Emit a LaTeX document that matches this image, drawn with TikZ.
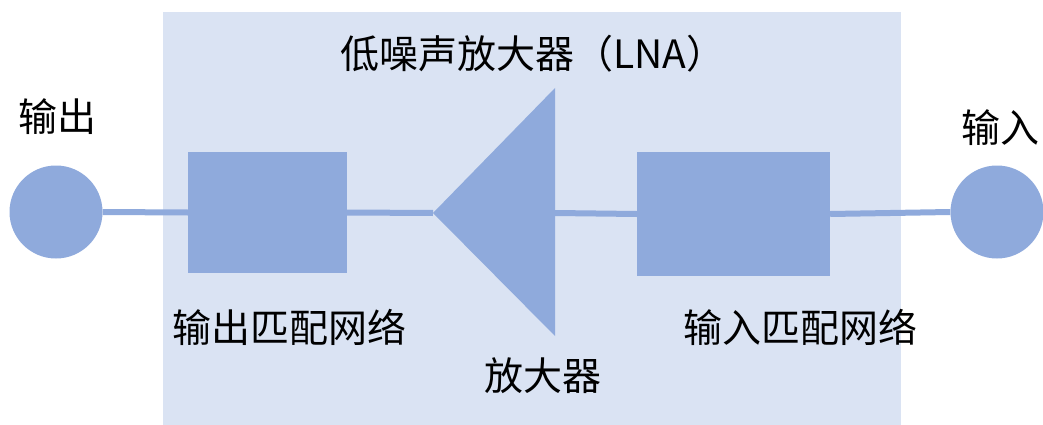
\documentclass[tikz,border=0pt]{standalone}
\usepackage{fontspec}
\setmainfont{Noto Sans CJK SC}
\definecolor{bgblue}{HTML}{DAE3F3}
\definecolor{shapeblue}{HTML}{8FAADC}
\begin{document}
\begin{tikzpicture}[x=1pt,y=-1pt,
  port/.style={circle,fill=shapeblue,inner sep=0pt,minimum size=93pt},
  netbox/.style={rectangle,fill=shapeblue,inner sep=0pt},
  wire/.style={draw=shapeblue,line width=6pt},
  lbl/.style={inner sep=0pt,font=\fontsize{39}{47}\selectfont,text=black}]
\useasboundingbox (0,0) rectangle (1043,425);
\fill[bgblue] (163,12) rectangle (901,425);
% nodes
\node[port] (out) at (56,212) {};
\node[port] (in) at (997,212) {};
\node[netbox,minimum width=159pt,minimum height=121pt] (ob) at (267.5,212.5) {};
\node[netbox,minimum width=193pt,minimum height=124pt] (ib) at (733.5,214) {};
\coordinate (tip) at (433,213);
\coordinate (base) at (555,213);
\fill[shapeblue] (tip) -- (555,88) -- (555,336) -- cycle;
% wires
\draw[wire] (out.east) -- (ob.west);
\draw[wire] (ob.east) -- (tip);
\draw[wire] (base) -- (ib.west);
\draw[wire] (ib.east) -- (in.west);
% labels
\node[lbl] (tout) at (57,117) {输出};
\node[lbl] (tin) at (1000,128) {输入};
\node[lbl] (title) at (533,54) {低噪声放大器（LNA）};
\node[lbl] (tob) at (289,327) {输出匹配网络};
\node[lbl] (tib) at (800,327) {输入匹配网络};
\node[lbl] (tamp) at (543,376) {放大器};
\end{tikzpicture}
\end{document}
